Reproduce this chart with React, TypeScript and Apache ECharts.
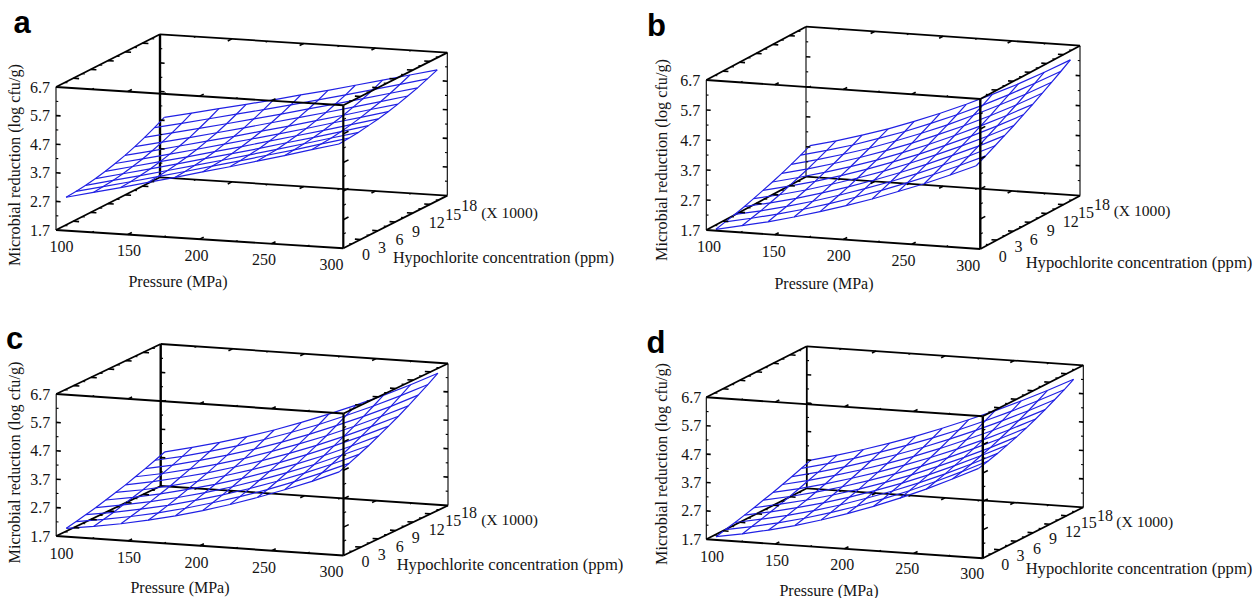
import React, { useEffect, useRef } from "react";
import * as echarts from "echarts";

const pressureGrid = [105, 124, 143, 162, 181, 200, 219, 238, 257, 276, 295];
const hypochloriteGrid = [0.5, 2.2, 3.9, 5.6, 7.3, 9, 10.7, 12.4, 14.1, 15.8, 17.5];

const pressureTicks = [100, 150, 200, 250, 300];
const hypochloriteTicks = [0, 3, 6, 9, 12, 15, 18];
const reductionTicks = [1.7, 2.7, 3.7, 4.7, 5.7, 6.7];

// Microbial reduction: one row per hypochlorite level, one column per pressure.
const surfaceA = [
  [2.81, 3.04, 3.27, 3.51, 3.75, 4.0, 4.24, 4.5, 4.75, 5.02, 5.28],
  [2.84, 3.07, 3.3, 3.54, 3.78, 4.03, 4.27, 4.53, 4.78, 5.05, 5.31],
  [2.88, 3.11, 3.34, 3.58, 3.82, 4.06, 4.31, 4.56, 4.82, 5.08, 5.34],
  [2.94, 3.17, 3.4, 3.64, 3.88, 4.12, 4.36, 4.62, 4.87, 5.13, 5.4],
  [3.02, 3.25, 3.48, 3.71, 3.95, 4.19, 4.44, 4.69, 4.94, 5.2, 5.46],
  [3.12, 3.34, 3.57, 3.8, 4.04, 4.28, 4.52, 4.77, 5.03, 5.28, 5.54],
  [3.23, 3.45, 3.68, 3.91, 4.14, 4.38, 4.62, 4.87, 5.12, 5.38, 5.63],
  [3.36, 3.58, 3.8, 4.03, 4.26, 4.5, 4.74, 4.98, 5.23, 5.48, 5.74],
  [3.51, 3.73, 3.95, 4.17, 4.4, 4.63, 4.87, 5.11, 5.35, 5.6, 5.85],
  [3.68, 3.89, 4.11, 4.33, 4.55, 4.78, 5.01, 5.25, 5.49, 5.74, 5.99],
  [3.86, 4.07, 4.29, 4.5, 4.72, 4.95, 5.17, 5.41, 5.65, 5.89, 6.13],
];
const surfaceB = [
  [1.69, 1.87, 2.06, 2.28, 2.52, 2.78, 3.06, 3.37, 3.69, 4.04, 4.41],
  [1.77, 1.95, 2.15, 2.37, 2.62, 2.89, 3.18, 3.5, 3.83, 4.19, 4.57],
  [1.85, 2.03, 2.24, 2.47, 2.73, 3.01, 3.31, 3.63, 3.98, 4.34, 4.74],
  [1.94, 2.13, 2.34, 2.58, 2.84, 3.13, 3.44, 3.77, 4.13, 4.5, 4.91],
  [2.04, 2.23, 2.45, 2.7, 2.97, 3.26, 3.58, 3.92, 4.28, 4.67, 5.08],
  [2.15, 2.35, 2.57, 2.82, 3.1, 3.4, 3.72, 4.07, 4.44, 4.84, 5.27],
  [2.26, 2.47, 2.7, 2.95, 3.23, 3.54, 3.87, 4.23, 4.61, 5.02, 5.45],
  [2.38, 2.59, 2.83, 3.09, 3.38, 3.69, 4.03, 4.39, 4.78, 5.2, 5.65],
  [2.51, 2.73, 2.97, 3.23, 3.53, 3.85, 4.19, 4.57, 4.97, 5.39, 5.85],
  [2.65, 2.87, 3.11, 3.39, 3.68, 4.01, 4.36, 4.74, 5.15, 5.59, 6.05],
  [2.8, 3.02, 3.27, 3.54, 3.85, 4.18, 4.54, 4.93, 5.34, 5.79, 6.26],
];
const surfaceC = [
  [1.94, 2.07, 2.23, 2.42, 2.64, 2.89, 3.17, 3.48, 3.82, 4.18, 4.58],
  [2.01, 2.15, 2.32, 2.51, 2.74, 3.0, 3.28, 3.59, 3.94, 4.31, 4.71],
  [2.09, 2.23, 2.41, 2.61, 2.85, 3.11, 3.4, 3.72, 4.07, 4.45, 4.86],
  [2.17, 2.33, 2.51, 2.72, 2.96, 3.23, 3.53, 3.86, 4.21, 4.6, 5.01],
  [2.27, 2.43, 2.62, 2.84, 3.08, 3.36, 3.67, 4.0, 4.36, 4.76, 5.18],
  [2.37, 2.53, 2.73, 2.96, 3.22, 3.5, 3.81, 4.16, 4.53, 4.93, 5.36],
  [2.47, 2.65, 2.86, 3.09, 3.36, 3.65, 3.97, 4.32, 4.7, 5.11, 5.54],
  [2.59, 2.77, 2.99, 3.23, 3.5, 3.81, 4.14, 4.49, 4.88, 5.3, 5.74],
  [2.71, 2.9, 3.13, 3.38, 3.66, 3.97, 4.31, 4.68, 5.07, 5.49, 5.95],
  [2.84, 3.04, 3.28, 3.54, 3.83, 4.15, 4.49, 4.87, 5.27, 5.7, 6.16],
  [2.97, 3.19, 3.43, 3.7, 4.0, 4.33, 4.69, 5.07, 5.48, 5.92, 6.39],
];
const surfaceD = [
  [1.76, 1.92, 2.12, 2.34, 2.6, 2.89, 3.21, 3.56, 3.94, 4.36, 4.8],
  [1.84, 2.01, 2.2, 2.43, 2.69, 2.98, 3.3, 3.65, 4.04, 4.45, 4.89],
  [1.92, 2.1, 2.3, 2.53, 2.79, 3.09, 3.41, 3.76, 4.14, 4.55, 4.99],
  [2.01, 2.19, 2.4, 2.63, 2.9, 3.2, 3.52, 3.87, 4.26, 4.67, 5.11],
  [2.1, 2.29, 2.5, 2.74, 3.01, 3.31, 3.64, 4.0, 4.38, 4.79, 5.23],
  [2.2, 2.39, 2.61, 2.86, 3.14, 3.44, 3.77, 4.13, 4.52, 4.93, 5.37],
  [2.3, 2.5, 2.73, 2.99, 3.27, 3.58, 3.91, 4.27, 4.66, 5.08, 5.52],
  [2.41, 2.62, 2.86, 3.12, 3.41, 3.72, 4.06, 4.43, 4.82, 5.24, 5.68],
  [2.52, 2.74, 2.99, 3.26, 3.55, 3.87, 4.22, 4.59, 4.99, 5.41, 5.86],
  [2.64, 2.87, 3.12, 3.4, 3.7, 4.03, 4.38, 4.76, 5.16, 5.59, 6.04],
  [2.76, 3.0, 3.26, 3.55, 3.86, 4.2, 4.56, 4.94, 5.35, 5.78, 6.24],
];

type Pt = [number, number];
type Panel = {
  letter: string; letterAt: Pt; z: number[][];
  origin: Pt; ex: Pt; ey: Pt; height: number; labelGap: number;
  backW: number; frontW: number; hSize: number;
  pFrom: Pt; pTo: Pt; hAt: Pt[]; pTitle: Pt; hTitle: Pt; scale: Pt; yTitle: Pt;
};

const panels: Panel[] = [
  {
    letter: "a", letterAt: [22, 22], z: surfaceA,
    origin: [56, 230], ex: [287.3, 18.3], ey: [104, -52.7], height: 143, labelGap: 6, backW: 2.4, frontW: 2.2, hSize: 16.2,
    pFrom: [61.5, 246], pTo: [331.5, 264],
    hAt: [[366, 254.5], [382, 247], [399.5, 239], [416, 231], [436.7, 222.7], [453.3, 214], [469.2, 205.7]],
    pTitle: [178, 281], hTitle: [503.5, 257.5], scale: [509.5, 212], yTitle: [15, 165],
  },
  {
    letter: "b", letterAt: [656.5, 25], z: surfaceB,
    origin: [706.3, 230], ex: [274, 19], ey: [99.7, -53.3], height: 150, labelGap: 6, backW: 1.1, frontW: 2.4, hSize: 16.6,
    pFrom: [709, 246.7], pTo: [968.3, 265],
    hAt: [[1002.8, 256], [1018.5, 246.7], [1033.8, 239], [1050.7, 230], [1070.7, 221.7], [1086, 212.7], [1102, 204.3]],
    pTitle: [824, 283.3], hTitle: [1139, 262], scale: [1142, 210.7], yTitle: [662, 160],
  },
  {
    letter: "c", letterAt: [14.5, 338], z: surfaceC,
    origin: [56.2, 536], ex: [287.3, 19.5], ey: [104.5, -50], height: 142, labelGap: 6, backW: 2.4, frontW: 2.2, hSize: 16.6,
    pFrom: [61.5, 553.3], pTo: [331.5, 571.7],
    hAt: [[365.6, 561.7], [381.7, 554], [399.8, 546], [415.8, 537.7], [436.7, 529.3], [453.2, 520], [468.9, 512.7]],
    pTitle: [180, 587.5], hTitle: [510, 564.3], scale: [509.5, 519.3], yTitle: [15, 462.5],
  },
  {
    letter: "d", letterAt: [656, 342], z: surfaceD,
    origin: [706.3, 539.3], ex: [276.5, 19], ey: [100.5, -51], height: 142, labelGap: 5, backW: 1.8, frontW: 2.4, hSize: 16.6,
    pFrom: [712, 556], pTo: [972.3, 573.3],
    hAt: [[1005.3, 564], [1020.5, 555.7], [1037, 548.3], [1053, 538.3], [1073.1, 531], [1088.8, 522.7], [1104.9, 515]],
    pTitle: [829, 590], hTitle: [1139, 568.3], scale: [1144.7, 521], yTitle: [662, 464],
  },
];

const SERIF = '"Liberation Serif", "Times New Roman", serif';
const INK = "#141414";
const MESH = "#2020e4";

type P3 = [number, number, number];
type Seg = { pts: P3[]; w: number; color: string };

const PMIN = 100, PMAX = 300, HMAX = 18, ZMIN = 1.7, ZMAX = 6.7;

function project(pn: Panel, [p, h, z]: P3): Pt {
  const pf = (p - PMIN) / (PMAX - PMIN);
  const hf = h / HMAX;
  const unit = pn.height / (ZMAX - ZMIN);
  return [p + hf * (pn.ey[0] / pn.ex[0]) * (PMAX - PMIN), z - (pf * pn.ex[1] + hf * pn.ey[1]) / unit];
}

function boxSegs(pn: Panel) {
  const line = (a: P3, b: P3, w: number): Seg => ({ pts: [a, b], w, color: "#000" });
  const back: Seg[] = [
    line([PMIN, HMAX, ZMIN], [PMAX, HMAX, ZMIN], 1.8),
    line([PMIN, HMAX, ZMAX], [PMAX, HMAX, ZMAX], 1.8),
    line([PMIN, HMAX, ZMIN], [PMIN, HMAX, ZMAX], pn.backW),
    line([PMAX, HMAX, ZMIN], [PMAX, HMAX, ZMAX], 1.1),
    line([PMIN, 0, ZMIN], [PMIN, HMAX, ZMIN], 1.8),
    line([PMAX, 0, ZMIN], [PMAX, HMAX, ZMIN], 1.8),
  ];
  const front: Seg[] = [
    line([PMIN, 0, ZMIN], [PMAX, 0, ZMIN], 1.9),
    line([PMIN, 0, ZMAX], [PMAX, 0, ZMAX], 1.9),
    line([PMIN, 0, ZMIN], [PMIN, 0, ZMAX], 1.1),
    line([PMAX, 0, ZMIN], [PMAX, 0, ZMAX], pn.frontW),
    line([PMIN, 0, ZMAX], [PMIN, HMAX, ZMAX], 1.8),
    line([PMAX, 0, ZMAX], [PMAX, HMAX, ZMAX], 1.8),
  ];
  const tick = (a: P3, b: P3, major: boolean): Seg => ({ pts: [a, b], w: major ? 1.6 : 1.1, color: "#000" });
  // pressure edges
  for (let p = PMIN + 25; p < PMAX; p += 25) {
    const maj = (p - PMIN) % 50 === 0;
    const d = maj ? 0.7 : 0.35;
    for (const [h, dir, z] of [[0, 1, ZMIN], [0, 1, ZMAX], [HMAX, -1, ZMIN], [HMAX, -1, ZMAX]] as number[][]) {
      front.push(tick([p, h, z], [p, h + dir * d, z], maj));
    }
  }
  // hypochlorite edges
  for (let h = 1.5; h < HMAX; h += 1.5) {
    const maj = h % 3 === 0;
    const d = maj ? 4 : 2;
    for (const [p, dir, z] of [[PMIN, 1, ZMIN], [PMIN, 1, ZMAX], [PMAX, -1, ZMIN], [PMAX, -1, ZMAX]] as number[][]) {
      front.push(tick([p, h, z], [p + dir * d, h, z], maj));
    }
  }
  // reduction edges
  for (let i = 1; i < 10; i++) {
    const z = ZMIN + i * 0.5;
    const maj = i % 2 === 0;
    const dp = maj ? 3.2 : 1.6;
    const dh = maj ? 0.9 : 0.45;
    front.push(tick([PMIN, 0, z], [PMIN + dp, 0, z], maj));
    front.push(tick([PMIN, HMAX, z], [PMIN + dp, HMAX, z], maj));
    front.push(tick([PMAX, HMAX, z], [PMAX - dp, HMAX, z], maj));
    front.push(tick([PMAX, 0, z], [PMAX, dh, z], maj));
  }
  return { back, front };
}

function meshSegs(pn: Panel): Seg[] {
  const segs: Seg[] = [];
  hypochloriteGrid.forEach((h, j) => {
    segs.push({ pts: pressureGrid.map((p, i) => [p, h, pn.z[j][i]] as P3), w: 1.2, color: MESH });
  });
  pressureGrid.forEach((p, i) => {
    segs.push({ pts: hypochloriteGrid.map((h, j) => [p, h, pn.z[j][i]] as P3), w: 1.2, color: MESH });
  });
  return segs;
}

function customSeries(pn: Panel, idx: number, segs: Seg[], z: number) {
  return {
    type: "custom",
    xAxisIndex: idx,
    yAxisIndex: idx,
    silent: true,
    clip: false,
    z,
    data: segs.map((s) => [s.pts[0][0], s.pts[0][2]]),
    renderItem: (params: any, api: any) => {
      const s = segs[params.dataIndex];
      return {
        type: "polyline",
        shape: { points: s.pts.map((pt) => api.coord(project(pn, pt))) },
        style: { stroke: s.color, lineWidth: s.w, fill: "none" },
      };
    },
  };
}

function label(text: string, at: Pt, size: number, extra: any = {}, rotation = 0) {
  return {
    type: "text",
    x: at[0],
    y: at[1],
    rotation,
    silent: true,
    style: {
      text,
      font: `${size}px ${SERIF}`,
      fill: INK,
      textAlign: "center",
      textVerticalAlign: "middle",
      ...extra,
    },
  };
}

function App() {
  const ref = useRef<HTMLDivElement>(null);
  useEffect(() => {
    const chart = echarts.init(ref.current!, null, { renderer: "svg" });
    const grid: any[] = [], xAxis: any[] = [], yAxis: any[] = [], series: any[] = [], elements: any[] = [];
    panels.forEach((pn, i) => {
      grid.push({ left: pn.origin[0], top: pn.origin[1] - pn.height, width: pn.ex[0], height: pn.height });
      xAxis.push({ type: "value", gridIndex: i, min: PMIN, max: PMAX, show: false });
      yAxis.push({
        type: "value", gridIndex: i, min: ZMIN, max: ZMAX,
        axisLine: { show: false }, axisTick: { show: false }, splitLine: { show: false },
        axisLabel: {
          customValues: reductionTicks, margin: pn.labelGap, color: INK, fontFamily: SERIF, fontSize: 16,
          formatter: (v: number) => v.toFixed(1),
        },
      });
      const { back, front } = boxSegs(pn);
      series.push(customSeries(pn, i, back, 2), customSeries(pn, i, meshSegs(pn), 3), customSeries(pn, i, front, 4));
      pressureTicks.forEach((p, k) => {
        const t = k / (pressureTicks.length - 1);
        elements.push(label(String(p), [pn.pFrom[0] + (pn.pTo[0] - pn.pFrom[0]) * t, pn.pFrom[1] + (pn.pTo[1] - pn.pFrom[1]) * t], 16));
      });
      hypochloriteTicks.forEach((h, k) => elements.push(label(String(h), pn.hAt[k], 16)));
      elements.push(label("Pressure (MPa)", pn.pTitle, 16));
      elements.push(label("Hypochlorite concentration (ppm)", pn.hTitle, pn.hSize));
      elements.push(label("(X 1000)", pn.scale, 15.6));
      elements.push(label("Microbial reduction (log cfu/g)", pn.yTitle, 16.2, {}, Math.PI / 2));
      elements.push({
        type: "text", x: pn.letterAt[0], y: pn.letterAt[1], silent: true,
        style: { text: pn.letter, font: 'bold 31px "Liberation Sans", Arial, sans-serif', fill: "#000", textAlign: "center", textVerticalAlign: "middle" },
      });
    });
    chart.setOption({ animation: false, backgroundColor: "#fff", grid, xAxis, yAxis, series, graphic: { elements } });
    return () => chart.dispose();
  }, []);
  return <div ref={ref} style={{ position: "fixed", left: 0, top: 0, width: 1260, height: 598 }} />;
}

export default App;
